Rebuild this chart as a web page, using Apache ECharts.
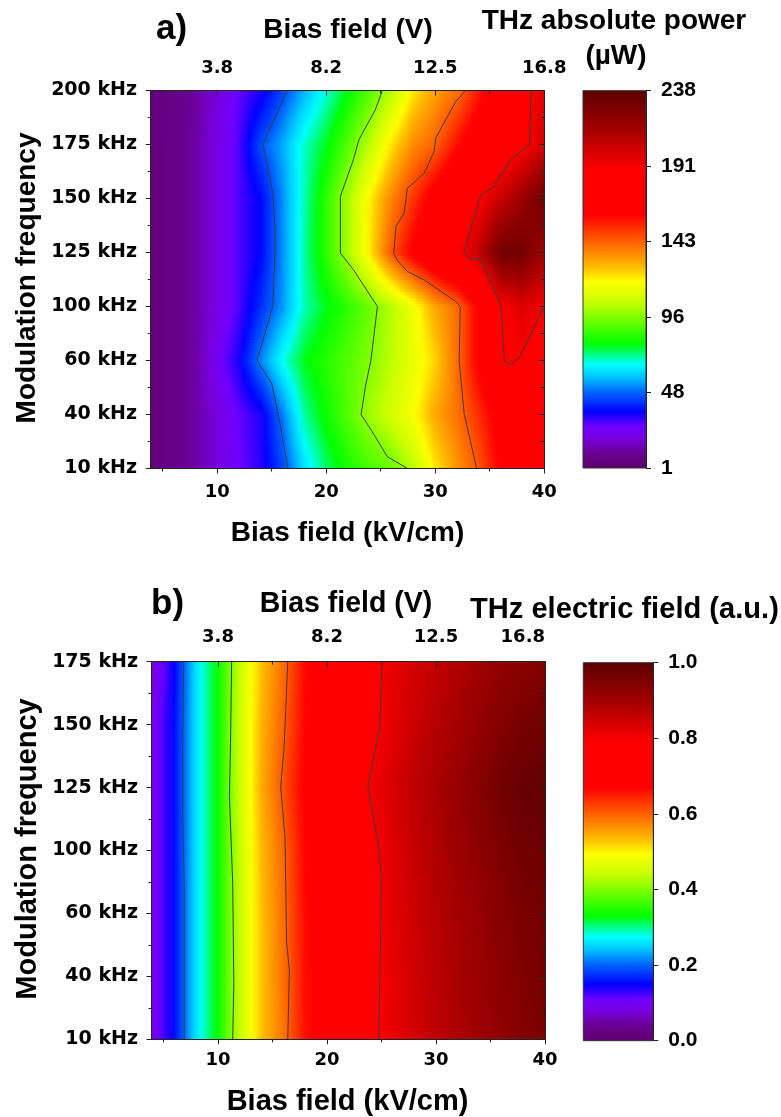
<!DOCTYPE html>
<html>
<head>
<meta charset="utf-8">
<script src="https://cdn.jsdelivr.net/npm/echarts@6/dist/echarts.min.js"></script>
<style>
    html, body { margin: 0; padding: 0; background: #fff; }
    #chart { width: 781px; height: 1117px; }
</style>
</head>
<body>
<div id="chart"></div>
<script>
// modulation frequency rows (bottom -> top)
const freqA = ["10 kHz", "40 kHz", "60 kHz", "100 kHz", "125 kHz", "150 kHz", "175 kHz", "200 kHz"];
const freqB = ["10 kHz", "40 kHz", "60 kHz", "100 kHz", "125 kHz", "150 kHz", "175 kHz"];

// bias field columns (kV/cm) where the maps were read
const biasGrid = [3.9, 6, 8, 10, 12, 14, 16, 18, 20, 22, 24, 26, 28, 30, 32, 34, 36, 38, 40];

// axis ticks
const fieldTicks = [10, 20, 30, 40];
const fieldMinor = [5, 15, 25, 35];
const voltLabels = ["3.8", "8.2", "12.5", "16.8"];

// colorbar tick labels
const powerTicks = ["1", "48", "96", "143", "191", "238"];
const powerMin = 1;
const powerMax = 238;

// a) THz absolute power (µW), one row per frequency
const power10 = [5, 8, 13, 20, 27, 33, 45, 62, 74, 82, 88, 93, 104, 121, 134, 145, 162, 168, 172];
const power40 = [5, 8, 13, 20, 28, 34, 51, 71, 81, 90, 100, 108, 117, 131, 140, 152, 165, 172, 177];
const power60 = [5, 8, 13, 24, 35, 52, 67, 78, 84, 90, 96, 104, 113, 124, 141, 162, 182, 190, 182];
const power100 = [5, 8, 13, 21, 30, 42, 54, 70, 78, 85, 93, 103, 115, 131, 141, 162, 189, 197, 191];
const power125 = [5, 8, 13, 21, 30, 37, 53, 71, 85, 101, 121, 145, 163, 176, 187, 205, 230, 230, 215];
const power150 = [5, 8, 13, 21, 30, 37, 53, 70, 85, 101, 120, 137, 151, 166, 178, 189, 203, 217, 232];
const power175 = [5, 8, 13, 21, 30, 46, 56, 69, 78, 90, 104, 122, 136, 143, 158, 169, 179, 188, 200];
const power200 = [5, 7, 12, 20, 28, 34, 45, 57, 68, 79, 90, 103, 121, 132, 140, 156, 172, 185, 196];

// b) THz electric field (a.u.)
const field10 = [0.09, 0.155, 0.26, 0.335, 0.44, 0.53, 0.585, 0.66, 0.69, 0.73, 0.785, 0.815, 0.84, 0.865, 0.885, 0.905, 0.925, 0.945, 0.955];
const field40 = [0.09, 0.155, 0.26, 0.335, 0.44, 0.53, 0.588, 0.66, 0.69, 0.73, 0.78, 0.815, 0.845, 0.87, 0.89, 0.91, 0.93, 0.95, 0.96];
const field60 = [0.09, 0.155, 0.26, 0.335, 0.44, 0.53, 0.59, 0.665, 0.69, 0.73, 0.78, 0.82, 0.85, 0.875, 0.895, 0.915, 0.94, 0.955, 0.965];
const field100 = [0.09, 0.155, 0.26, 0.335, 0.44, 0.535, 0.595, 0.67, 0.70, 0.74, 0.785, 0.825, 0.855, 0.88, 0.905, 0.93, 0.95, 0.97, 0.975];
const field125 = [0.09, 0.155, 0.26, 0.335, 0.445, 0.545, 0.61, 0.68, 0.715, 0.755, 0.805, 0.835, 0.865, 0.89, 0.915, 0.94, 0.965, 0.985, 0.99];
const field150 = [0.09, 0.155, 0.26, 0.335, 0.445, 0.54, 0.60, 0.67, 0.70, 0.74, 0.785, 0.82, 0.85, 0.875, 0.895, 0.92, 0.945, 0.96, 0.97];
const field175 = [0.07, 0.15, 0.26, 0.335, 0.44, 0.53, 0.59, 0.665, 0.69, 0.73, 0.78, 0.815, 0.84, 0.86, 0.88, 0.90, 0.92, 0.935, 0.945];

// contour lines [bias kV/cm, frequency row index]
const contA48 = [[16.4, 7], [14.2, 6], [15.1, 5.1], [15.3, 4.5], [15.3, 4], [15.1, 3], [13.65, 2], [15.0, 1.58], [15.6, 1], [16.5, 0]];
const contA96 = [[25.15, 7], [24.5, 6.64], [23.0, 6.09], [22.5, 5.72], [21.3, 5.04], [21.3, 3.99], [22.5, 3.68], [24.7, 3], [24.1, 2], [23.6, 1.52], [23.2, 1], [24.1, 0.72], [25.6, 0.22], [27.45, 0]];
const contA143 = [[32.8, 7], [31.9, 6.8], [30.05, 6.12], [29.9, 5.87], [29.0, 5.47], [27.45, 5.19], [27.15, 4.73], [26.4, 4.48], [26.2, 3.99], [26.5, 3.86], [27.45, 3.65], [29.0, 3.49], [31.9, 3.09], [32.3, 3], [32.2, 2], [32.65, 1.02], [33.8, 0]];
const contA191 = [[38.8, 7], [38.65, 6], [36.95, 5.72], [35.25, 5.19], [34.2, 5.07], [32.65, 4.02], [33.1, 3.88], [34.2, 3.88], [36.05, 3], [36.35, 1.98], [36.95, 1.92], [37.75, 2.07], [40, 3]];

const contB02 = [[6.85, 6], [6.75, 4.54], [6.75, 3.64], [6.9, 2.48], [6.9, 0]];
const contB04 = [[11.25, 6], [11.15, 4.7], [11.05, 3.86], [11.35, 2.48], [11.45, 0.89], [11.35, 0]];
const contB06 = [[16.4, 6], [16.15, 4.97], [16.05, 4.6], [15.75, 4.01], [16.15, 3.22], [16.3, 1.53], [16.55, 1.1], [16.4, 0]];
const contB08 = [[25.05, 6], [24.85, 4.97], [23.75, 4.01], [24.75, 3.06], [25.0, 2.48], [24.75, 0]];

const powerRows = [power10, power40, power60, power100, power125, power150, power175, power200];
const fieldRows = [field10, field40, field60, field100, field125, field150, field175];

// rainbow colour map (fraction, colour)
const rainbow = [
    [0.00, "#5e0070"], [0.04, "#6a0090"], [0.08, "#7800e0"], [0.11, "#7000ff"],
    [0.15, "#0000ff"], [0.20, "#0060ff"], [0.24, "#00c0ff"], [0.275, "#00ffff"],
    [0.33, "#00ff00"], [0.40, "#80ff00"], [0.44, "#c8ff00"], [0.495, "#ffff00"],
    [0.53, "#ffc000"], [0.565, "#ff9000"], [0.60, "#ff6000"], [0.635, "#ff3000"],
    [0.67, "#ff0000"], [0.79, "#ff0000"], [0.89, "#a80000"], [1.00, "#5c0000"],
];
const rainbowRgb = rainbow.map(([f, c]) => {
    const n = parseInt(c.slice(1), 16);
    return [f, [n >> 16, (n >> 8) & 255, n & 255]];
});

function colorAt(f) {
    f = Math.max(0, Math.min(1, f));
    for (let i = 1; i < rainbowRgb.length; i++) {
        const [f1, c1] = rainbowRgb[i];
        if (f <= f1) {
            const [f0, c0] = rainbowRgb[i - 1];
            const t = f1 === f0 ? 0 : (f - f0) / (f1 - f0);
            const r = Math.round(c0[0] + (c1[0] - c0[0]) * t);
            const g = Math.round(c0[1] + (c1[1] - c0[1]) * t);
            const b = Math.round(c0[2] + (c1[2] - c0[2]) * t);
            return `rgb(${r},${g},${b})`;
        }
    }
    return rainbow[rainbow.length - 1][1];
}

// one item per band between two frequency rows, shaded in thin strips
function heatRenderer(rows, vmin, vmax, strips) {
    return function (params, api) {
        const j = api.value(0);
        const lo = rows[j];
        const hi = rows[j + 1];
        const n = biasGrid.length;
        const x0 = api.coord([biasGrid[0], j])[0];
        const x1 = api.coord([biasGrid[n - 1], j])[0];
        const yLo = api.coord([biasGrid[0], j])[1];
        const yHi = api.coord([biasGrid[0], j + 1])[1];
        const h = (yLo - yHi) / strips;
        const children = [];
        for (let k = 0; k < strips; k++) {
            const t = (k + 0.5) / strips;
            const stops = [];
            for (let i = 0; i < n - 1; i++) {
                const va = lo[i] * (1 - t) + hi[i] * t;
                const vb = lo[i + 1] * (1 - t) + hi[i + 1] * t;
                for (let s = 0; s < 4; s++) {
                    const u = s / 4;
                    const xv = biasGrid[i] + (biasGrid[i + 1] - biasGrid[i]) * u;
                    stops.push({
                        offset: (api.coord([xv, j])[0] - x0) / (x1 - x0),
                        color: colorAt((va + (vb - va) * u - vmin) / (vmax - vmin)),
                    });
                }
            }
            const vEnd = lo[n - 1] * (1 - t) + hi[n - 1] * t;
            stops.push({ offset: 1, color: colorAt((vEnd - vmin) / (vmax - vmin)) });
            children.push({
                type: "rect",
                shape: { x: x0, y: yLo - h * (k + 1), width: x1 - x0, height: h + 0.6 },
                style: { fill: new echarts.graphic.LinearGradient(0, 0, 1, 0, stops) },
            });
        }
        return { type: "group", children };
    };
}

function barRenderer(top) {
    return function (params, api) {
        const p0 = api.coord([0, 0]);
        const p1 = api.coord([1, top]);
        const stops = rainbow.map(([f, c]) => ({ offset: 1 - f, color: c })).reverse();
        return {
            type: "rect",
            shape: { x: p0[0], y: p1[1], width: p1[0] - p0[0], height: p0[1] - p1[1] },
            style: { fill: new echarts.graphic.LinearGradient(0, 0, 0, 1, stops), stroke: "#333", lineWidth: 1 },
        };
    };
}

const axisColor = "#222";
const yTickFont = "bold 19px \"DejaVu Sans\", Verdana, sans-serif";
const xTickFont = "bold 18px \"DejaVu Sans\", Verdana, sans-serif";
const barFont = { fontFamily: "Liberation Sans", fontWeight: "bold", fontSize: 21, color: "#000" };
const titleFamily = "\"Liberation Sans\", Arial, sans-serif";

// frequency tick labels, placed left of the axis line
function freqLabelRenderer(labels, margin) {
    return function (params, api) {
        const i = api.value(0);
        const p = api.coord([biasGrid[0], i]);
        return {
            type: "text", x: p[0] - margin, y: p[1],
            style: { text: labels[i], font: yTickFont, fill: "#000", align: "right", verticalAlign: "middle" },
        };
    };
}

// bias tick labels below (kV/cm) or above (V) the plot
function biasLabelRenderer(texts, row, dy, alignLast) {
    return function (params, api) {
        const k = api.value(0);
        const p = api.coord([fieldTicks[k], row]);
        const last = alignLast && k === fieldTicks.length - 1;
        return {
            type: "text", x: p[0], y: p[1] + dy,
            style: { text: texts[k], font: xTickFont, fill: "#000", align: last ? "right" : "center", verticalAlign: "middle" },
        };
    };
}

function biasAxes(gridIndex) {
    const base = {
        gridIndex, type: "value", min: 3.9, max: 40,
        splitLine: { show: false }, axisLabel: { show: false }, z: 10,
    };
    return [
        {
            ...base, position: "bottom",
            axisLine: { onZero: false, lineStyle: { color: axisColor, width: 1 } },
            axisTick: { customValues: fieldTicks, length: 5, lineStyle: { color: axisColor } },
        },
        {
            ...base, position: "bottom",
            axisLine: { show: false, onZero: false },
            axisTick: { customValues: fieldMinor, length: 3, lineStyle: { color: axisColor } },
        },
        {
            ...base, position: "top",
            axisLine: { onZero: false, lineStyle: { color: axisColor, width: 1 } },
            axisTick: { customValues: fieldTicks, inside: true, length: 5, lineStyle: { color: axisColor } },
        },
        {
            ...base, position: "top",
            axisLine: { show: false, onZero: false },
            axisTick: { customValues: fieldMinor, inside: true, length: 3, lineStyle: { color: axisColor } },
        },
    ];
}

function freqAxes(gridIndex, labels) {
    const base = {
        gridIndex, type: "value", min: 0, max: labels.length - 1, interval: 1,
        splitLine: { show: false }, minorSplitLine: { show: false },
        axisLabel: { show: false }, z: 10,
    };
    return [
        {
            ...base, position: "left",
            axisLine: { onZero: false, lineStyle: { color: axisColor } },
            axisTick: { length: 5, lineStyle: { color: axisColor } },
            minorTick: { show: true, splitNumber: 2, length: 3, lineStyle: { color: axisColor } },
        },
        {
            ...base, position: "right",
            axisLine: { onZero: false, lineStyle: { color: axisColor } },
            axisTick: { inside: true, length: 5, lineStyle: { color: axisColor } },
            minorTick: { show: true, splitNumber: 2, length: 3, lineStyle: { color: axisColor } },
        },
    ];
}

function contour(data, xAxisIndex, yAxisIndex) {
    return {
        type: "line", data, xAxisIndex, yAxisIndex, z: 5,
        symbol: "none", silent: true, smooth: false,
        lineStyle: { color: "#3c3c3c", width: 1 },
    };
}

function labelSeries(xAxisIndex, yAxisIndex, count, renderItem) {
    return {
        type: "custom", xAxisIndex, yAxisIndex, z: 20, silent: true, clip: false,
        renderItem, data: Array.from({ length: count }, (_, i) => [i]),
    };
}

const option = {
    animation: false,
    backgroundColor: "#fff",
    grid: [
        { left: 150.7, top: 90.5, width: 393.5, height: 378 },
        { left: 583, top: 90.7, width: 63, height: 377.3 },
        { left: 151.5, top: 661.7, width: 393.5, height: 377.6 },
        { left: 583.3, top: 662.7, width: 70, height: 378 },
    ],
    xAxis: [
        ...biasAxes(0),
        { gridIndex: 1, type: "value", min: 0, max: 1, show: false },
        ...biasAxes(2),
        { gridIndex: 3, type: "value", min: 0, max: 1, show: false },
    ],
    yAxis: [
        ...freqAxes(0, freqA),
        {
            gridIndex: 1, type: "value", position: "right", min: 0, max: 5, interval: 1, z: 10,
            splitLine: { show: false },
            axisLine: { show: true, onZero: false, lineStyle: { color: axisColor } },
            axisTick: { show: true, length: 5, lineStyle: { color: axisColor } },
            axisLabel: { margin: 15, formatter: (v) => powerTicks[v], ...barFont },
        },
        ...freqAxes(2, freqB),
        {
            gridIndex: 3, type: "value", position: "right", min: 0, max: 1, interval: 0.2, z: 10,
            splitLine: { show: false },
            axisLine: { show: true, onZero: false, lineStyle: { color: axisColor } },
            axisTick: { show: true, length: 5, lineStyle: { color: axisColor } },
            axisLabel: { margin: 15, formatter: (v) => v.toFixed(1), ...barFont },
        },
    ],
    series: [
        {
            type: "custom", xAxisIndex: 0, yAxisIndex: 0, z: 1, silent: true,
            renderItem: heatRenderer(powerRows, powerMin, powerMax, 18),
            data: freqA.slice(1).map((_, j) => [j]),
        },
        contour(contA48, 0, 0),
        contour(contA96, 0, 0),
        contour(contA143, 0, 0),
        contour(contA191, 0, 0),
        labelSeries(0, 0, freqA.length, freqLabelRenderer(freqA, 13.7)),
        labelSeries(0, 0, fieldTicks.length, biasLabelRenderer(fieldTicks.map(String), 0, 24, false)),
        labelSeries(0, 0, fieldTicks.length, biasLabelRenderer(voltLabels, freqA.length - 1, -22.5, false)),
        {
            type: "custom", xAxisIndex: 4, yAxisIndex: 2, z: 1, silent: true,
            renderItem: barRenderer(5), data: [[0]],
        },
        {
            type: "custom", xAxisIndex: 5, yAxisIndex: 3, z: 1, silent: true,
            renderItem: heatRenderer(fieldRows, 0, 1, 21),
            data: freqB.slice(1).map((_, j) => [j]),
        },
        contour(contB02, 5, 3),
        contour(contB04, 5, 3),
        contour(contB06, 5, 3),
        contour(contB08, 5, 3),
        labelSeries(5, 3, freqB.length, freqLabelRenderer(freqB, 13.5)),
        labelSeries(5, 3, fieldTicks.length, biasLabelRenderer(fieldTicks.map(String), 0, 21.5, false)),
        labelSeries(5, 3, fieldTicks.length, biasLabelRenderer(voltLabels, freqB.length - 1, -24.5, true)),
        {
            type: "custom", xAxisIndex: 9, yAxisIndex: 5, z: 1, silent: true,
            renderItem: barRenderer(1), data: [[0]],
        },
    ],
    graphic: [
        { type: "text", x: 156, y: 29, style: { text: "a)", font: `bold 35px ${titleFamily}`, fill: "#000", align: "left", verticalAlign: "middle" } },
        { type: "text", x: 348, y: 30, style: { text: "Bias field (V)", font: `bold 28px ${titleFamily}`, fill: "#000", align: "center", verticalAlign: "middle" } },
        { type: "text", x: 614, y: 21.5, style: { text: "THz absolute power", font: `bold 28px ${titleFamily}`, fill: "#000", align: "center", verticalAlign: "middle" } },
        { type: "text", x: 616, y: 56, style: { text: "(µW)", font: `bold 28px ${titleFamily}`, fill: "#000", align: "center", verticalAlign: "middle" } },
        { type: "text", x: 347.5, y: 533, style: { text: "Bias field (kV/cm)", font: `bold 28px ${titleFamily}`, fill: "#000", align: "center", verticalAlign: "middle" } },
        { type: "text", x: 27.5, y: 278, rotation: Math.PI / 2, style: { text: "Modulation frequency", font: `bold 28px ${titleFamily}`, fill: "#000", align: "center", verticalAlign: "middle" } },
        { type: "text", x: 151, y: 604, style: { text: "b)", font: `bold 35px ${titleFamily}`, fill: "#000", align: "left", verticalAlign: "middle" } },
        { type: "text", x: 346, y: 604, scaleX: 0.95, style: { text: "Bias field (V)", font: `bold 30px ${titleFamily}`, fill: "#000", align: "center", verticalAlign: "middle" } },
        { type: "text", x: 470, y: 610, scaleX: 0.97, style: { text: "THz electric field (a.u.)", font: `bold 30px ${titleFamily}`, fill: "#000", align: "left", verticalAlign: "middle" } },
        { type: "text", x: 347.5, y: 1101.7, style: { text: "Bias field (kV/cm)", font: `bold 29px ${titleFamily}`, fill: "#000", align: "center", verticalAlign: "middle" } },
        { type: "text", x: 27.5, y: 849, rotation: Math.PI / 2, style: { text: "Modulation frequency", font: `bold 29px ${titleFamily}`, fill: "#000", align: "center", verticalAlign: "middle" } },
    ],
};

const chart = echarts.init(document.getElementById("chart"), null, { renderer: "canvas" });
chart.setOption(option);
</script>
</body>
</html>
